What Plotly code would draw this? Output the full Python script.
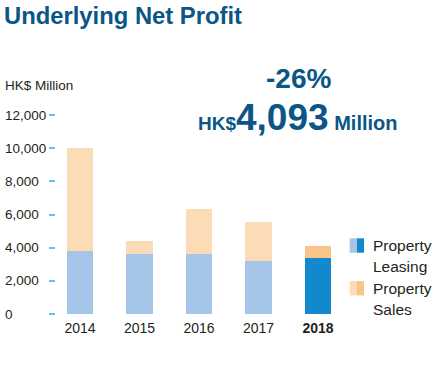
import plotly.graph_objects as go

# ---- data ----
years = ["2014", "2015", "2016", "2017", "2018"]
year_labels = ["2014", "2015", "2016", "2017", "<b>2018</b>"]
leasing = [3810, 3600, 3600, 3180, 3360]
sales = [6190, 780, 2730, 2350, 733]
y_ticks = [0, 2000, 4000, 6000, 8000, 10000, 12000]
y_tick_labels = ["0", "2,000", "4,000", "6,000", "8,000", "10,000", "12,000"]

# ---- style ----
FONT = "Liberation Sans, Arial, sans-serif"
NAVY = "#0b5587"
TXT = "#231f20"
LEASE_LIGHT, LEASE_DARK = "#a4c4e8", "#1289cc"
SALES_LIGHT, SALES_DARK = "#fcdcb6", "#f8c48a"
TICK = "#5bc5f2"

W, H = 432, 380
L, R, T, B = 56, 87, 115, 66
pw, ph = W - L - R, H - T - B


def xp(px):
    return (px - L) / pw


def yp(py):
    return (H - B - py) / ph


xs = list(range(len(years)))
lease_colors = [LEASE_LIGHT] * (len(years) - 1) + [LEASE_DARK]
sales_colors = [SALES_LIGHT] * (len(years) - 1) + [SALES_DARK]

fig = go.Figure()
fig.add_bar(x=xs, y=leasing, marker=dict(color=lease_colors, line=dict(width=0)),
            width=0.45, name="Property Leasing")
fig.add_bar(x=xs, y=sales, marker=dict(color=sales_colors, line=dict(width=0)),
            width=0.45, name="Property Sales")

annotations = []
# y tick labels (left aligned)
for v, t in zip(y_ticks, y_tick_labels):
    annotations.append(dict(x=xp(3), xref="paper", y=v, yref="y", text=t,
                            xanchor="left", yanchor="middle", showarrow=False,
                            font=dict(family=FONT, size=13.5, color=TXT)))
# axis unit
annotations.append(dict(x=xp(3), xref="paper", y=yp(86), yref="paper", text="HK$ Million",
                        xanchor="left", yanchor="middle", showarrow=False,
                        font=dict(family=FONT, size=13.5, color=TXT)))
# title
annotations.append(dict(x=xp(2), xref="paper", y=yp(15), yref="paper",
                        text="<b>Underlying Net Profit</b>",
                        xanchor="left", yanchor="middle", showarrow=False,
                        font=dict(family=FONT, size=23.8, color=NAVY)))
# headline
annotations.append(dict(x=xp(298.5), xref="paper", y=yp(78), yref="paper",
                        text="<b>-26%</b>",
                        xanchor="center", yanchor="middle", showarrow=False,
                        font=dict(family=FONT, size=28, color=NAVY)))
annotations.append(dict(x=xp(400), xref="paper", y=yp(118), yref="paper",
                        text="<b>HK$<span style='font-size:37px'>4,093</span>"
                             "<span style='font-size:20px'> Million</span></b>",
                        xanchor="right", yanchor="middle", showarrow=False,
                        font=dict(family=FONT, size=19, color=NAVY)))
# legend (manual)
shapes = []
legend_items = [
    (238.3, LEASE_LIGHT, LEASE_DARK, ["Property", "Leasing"]),
    (281.0, SALES_LIGHT, SALES_DARK, ["Property", "Sales"]),
]
for top, c1, c2, lines in legend_items:
    shapes.append(dict(type="rect", xref="paper", yref="paper",
                       x0=xp(349.7), x1=xp(357), y0=yp(top + 14.4), y1=yp(top),
                       fillcolor=c1, line=dict(width=0)))
    shapes.append(dict(type="rect", xref="paper", yref="paper",
                       x0=xp(357), x1=xp(364), y0=yp(top + 14.4), y1=yp(top),
                       fillcolor=c2, line=dict(width=0)))
    for i, line in enumerate(lines):
        annotations.append(dict(x=xp(371), xref="paper", y=yp(top + 7 + 21.5 * i), yref="paper",
                                text=line, xanchor="left", yanchor="middle", showarrow=False,
                                font=dict(family=FONT, size=15.5, color=TXT)))

fig.update_layout(
    width=W, height=H, autosize=False,
    margin=dict(l=L, r=R, t=T, b=B, pad=0),
    paper_bgcolor="white", plot_bgcolor="white",
    barmode="stack", showlegend=False,
    font=dict(family=FONT, color=TXT),
    xaxis=dict(range=[-0.4034, 4.4538], tickvals=xs, ticktext=year_labels,
               showgrid=False, zeroline=False, showline=False, ticks="",
               ticklabelstandoff=4,
               tickfont=dict(family=FONT, size=14, color=TXT), fixedrange=True),
    yaxis=dict(range=[0, 12000], tickvals=y_ticks, showticklabels=False,
               ticks="outside", ticklen=6, tickwidth=2, tickcolor=TICK,
               showgrid=False, zeroline=False, showline=False, fixedrange=True),
    annotations=annotations, shapes=shapes,
)

fig.write_html("out.html", config={"displayModeBar": False},
               post_script="document.body.style.margin='0';")
